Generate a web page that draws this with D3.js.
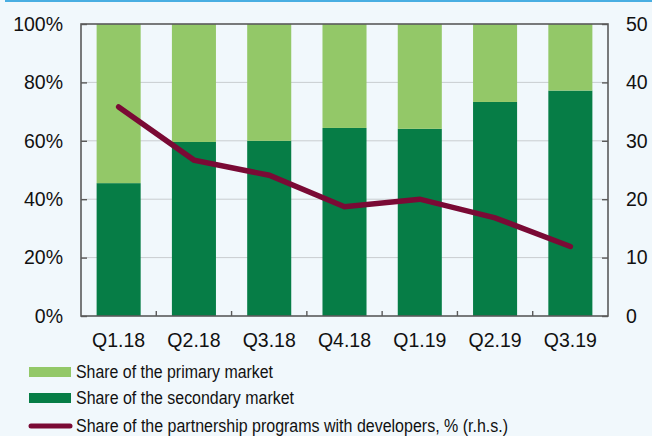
<!DOCTYPE html>
<html>
<head>
<meta charset="utf-8">
<script src="https://cdn.jsdelivr.net/npm/d3@7"></script>
<style>
  html, body { margin: 0; padding: 0; background: #f1f8fc; }
  svg { display: block; font-family: "Liberation Sans", Arial, sans-serif; }
</style>
</head>
<body>
<svg id="chart" width="652" height="436"></svg>
<script>
// Quarterly data
const quarters = ["Q1.18", "Q2.18", "Q3.18", "Q4.18", "Q1.19", "Q2.19", "Q3.19"];
const secondaryShare = [45.5, 59.6, 60.0, 64.4, 64.1, 73.3, 77.2];
const primaryShare = secondaryShare.map(v => 100 - v);
const partnershipShare = [35.8, 26.7, 24.1, 18.7, 20.0, 16.8, 11.9];

const leftTicks = [0, 20, 40, 60, 80, 100];
const rightTicks = [0, 10, 20, 30, 40, 50];

const colors = {
  primary: "#93c868",
  secondary: "#067d46",
  line: "#7a0a35",
  axis: "#5a5a5a",
  grid: "#c9cdd0",
  text: "#111"
};

const svg = d3.select("#chart");
const W = 652, H = 436;
const m = { left: 81, right: 44, top: 24, bottom: 120 };
const pw = W - m.left - m.right;   // 527
const ph = H - m.top - m.bottom;   // 292
const tickFont = 19.5;

// top accent rule
svg.append("rect").attr("x", 5).attr("y", 0).attr("width", W - 5).attr("height", 2).attr("fill", "#49aee2");

const g = svg.append("g").attr("transform", `translate(${m.left},${m.top})`);

const x = d3.scaleBand().domain(quarters).range([0, pw]).paddingInner(0.415).paddingOuter(0.2075);
const y = d3.scaleLinear().domain([0, 100]).range([ph, 0]);
const y2 = d3.scaleLinear().domain([0, 50]).range([ph, 0]);

// gridlines
g.append("g").selectAll("line").data(leftTicks.filter(t => t > 0 && t < 100)).join("line")
  .attr("x1", 0).attr("x2", pw)
  .attr("y1", d => y(d)).attr("y2", d => y(d))
  .attr("stroke", colors.grid).attr("stroke-width", 1);

// stacked bars
const rows = quarters.map((q, i) => ({ q, secondary: secondaryShare[i], primary: primaryShare[i] }));
const stack = d3.stack().keys(["secondary", "primary"])(rows);
g.append("g").selectAll("g").data(stack).join("g")
  .attr("fill", d => colors[d.key])
  .selectAll("rect").data(d => d).join("rect")
  .attr("x", d => x(d.data.q))
  .attr("width", x.bandwidth())
  .attr("y", d => y(d[1]))
  .attr("height", d => y(d[0]) - y(d[1]));

// frame
g.append("rect").attr("x", 0).attr("y", 0).attr("width", pw).attr("height", ph)
  .attr("fill", "none").attr("stroke", colors.axis).attr("stroke-width", 1.6);

// left axis
const leftAxis = g.append("g")
  .call(d3.axisLeft(y).tickValues(leftTicks).tickFormat(d => d + "%").tickSize(-6).tickPadding(18));
leftAxis.select(".domain").remove();
leftAxis.selectAll(".tick line").attr("stroke", colors.axis).attr("stroke-width", 1.4);
leftAxis.selectAll(".tick text").attr("font-size", tickFont).attr("fill", colors.text)
  .attr("font-family", "Liberation Sans, Arial, sans-serif");

// right axis
const rightAxis = g.append("g").attr("transform", `translate(${pw},0)`)
  .call(d3.axisRight(y2).tickValues(rightTicks).tickSize(-6).tickPadding(18));
rightAxis.select(".domain").remove();
rightAxis.selectAll(".tick line").attr("stroke", colors.axis).attr("stroke-width", 1.4);
rightAxis.selectAll(".tick text").attr("font-size", tickFont).attr("fill", colors.text)
  .attr("font-family", "Liberation Sans, Arial, sans-serif");

// bottom axis: labels centred on bars, ticks at band boundaries
const bottomAxis = g.append("g").attr("transform", `translate(0,${ph})`)
  .call(d3.axisBottom(x).tickSize(0).tickPadding(17));
bottomAxis.select(".domain").remove();
bottomAxis.selectAll(".tick text").attr("font-size", tickFont).attr("fill", colors.text)
  .attr("font-family", "Liberation Sans, Arial, sans-serif");
const step = x.step();
g.append("g").selectAll("line").data(quarters.slice(1)).join("line")
  .attr("x1", d => x(d) - x.paddingInner() * step / 2)
  .attr("x2", d => x(d) - x.paddingInner() * step / 2)
  .attr("y1", ph).attr("y2", ph - 5)
  .attr("stroke", colors.axis).attr("stroke-width", 1.4);

// partnership line
const line = d3.line()
  .x((d, i) => x(quarters[i]) + x.bandwidth() / 2)
  .y(d => y2(d));
g.append("path").datum(partnershipShare)
  .attr("d", line)
  .attr("fill", "none")
  .attr("stroke", colors.line)
  .attr("stroke-width", 5.5)
  .attr("stroke-linecap", "round")
  .attr("stroke-linejoin", "miter");

// legend (text is slightly condensed)
const legendItems = [
  { label: "Share of the primary market", type: "rect", color: colors.primary, y: 372, w: 197 },
  { label: "Share of the secondary market", type: "rect", color: colors.secondary, y: 398, w: 218 },
  { label: "Share of the partnership programs with developers, % (r.h.s.)", type: "line", color: colors.line, y: 426, w: 432 }
];
const legend = svg.append("g");
legendItems.forEach(it => {
  if (it.type === "rect") {
    legend.append("rect").attr("x", 29).attr("y", it.y - 5).attr("width", 42).attr("height", 10).attr("fill", it.color);
  } else {
    legend.append("line").attr("x1", 31).attr("x2", 70).attr("y1", it.y).attr("y2", it.y)
      .attr("stroke", it.color).attr("stroke-width", 5).attr("stroke-linecap", "round");
  }
  legend.append("text").attr("x", 76).attr("y", it.y + 6)
    .attr("font-size", 17.5).attr("fill", colors.text)
    .attr("textLength", it.w).attr("lengthAdjust", "spacingAndGlyphs")
    .text(it.label);
});
</script>
</body>
</html>
